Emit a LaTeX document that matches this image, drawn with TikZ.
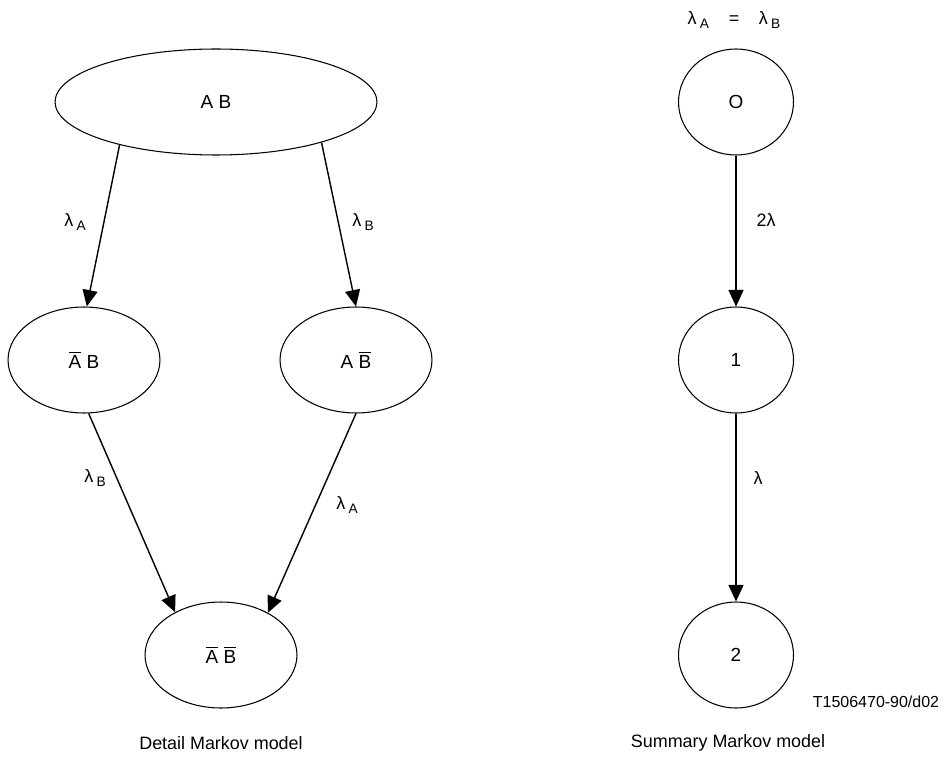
\documentclass[tikz,border=0pt]{standalone}
\usepackage{fontspec}
\setmainfont{Liberation Sans}
\usetikzlibrary{arrows.meta,shapes.geometric}
% bar over a letter, and a lowered index after lambda
\newcommand{\ovl}[1]{\setbox0\hbox{#1}\rlap{\rule[1.15\ht0]{\wd0}{0.6pt}}#1}
\newcommand{\lsub}[1]{\hspace{0.18em}\raisebox{-0.45ex}{\fontsize{7.8}{9}\selectfont #1}}

\begin{document}
\begin{tikzpicture}[x=0.02cm,y=-0.02cm,
  font=\fontsize{10.2}{12}\selectfont,
  st/.style={draw,ellipse,line width=0.6pt,inner sep=0pt,minimum width=3.04cm,minimum height=2.12cm,
    font=\fontsize{10.8}{12}\selectfont},
  sm/.style={st,minimum width=2.3cm},
  arr/.style={-{Triangle[length=3.3mm,width=3mm]},line width=0.8pt},
  lbl/.style={inner sep=1pt}]
\useasboundingbox (0,0) rectangle (945,760);
% detail model
\node[st,minimum width=6.44cm] (ab) at (216,102) {A B};
\node[st] (nab) at (84,360) {\ovl{A} B};
\node[st] (anb) at (356,360) {A \ovl{B}};
\node[st] (nanb) at (221,655) {\ovl{A} \ovl{B}};
\draw[arr] (ab.204) -- (nab.87);
\draw[arr] (ab.339) -- (anb.north);
\draw[arr] (nab.-85) -- (nanb.137);
\draw[arr] (anb.south) -- (nanb.42);
\node[lbl] (la1) at (75,222) {λ\lsub{A}};
\node[lbl] (lb1) at (363,222) {λ\lsub{B}};
\node[lbl] (lb2) at (95,478) {λ\lsub{B}};
\node[lbl] (la2) at (347,505) {λ\lsub{A}};
\node (cap1) at (221,743) {Detail Markov model};
% summary model
\node (eq) at (734,20) {λ\lsub{A}\hspace{1.1em}=\hspace{1.1em}λ\lsub{B}};
\node[sm] (s0) at (736,102) {O};
\node[sm] (s1) at (736,360) {1};
\node[sm] (s2) at (736,655) {2};
\draw[arr] (s0) -- (s1);
\draw[arr] (s1) -- (s2);
\node[lbl] (l2) at (766,220) {2λ};
\node[lbl] (l1) at (758,478) {λ};
\node[font=\fontsize{9.1}{11}\selectfont] (ref) at (876,702) {T1506470-90/d02};
\node (cap2) at (728,743) {Summary Markov model};
\end{tikzpicture}
\end{document}
